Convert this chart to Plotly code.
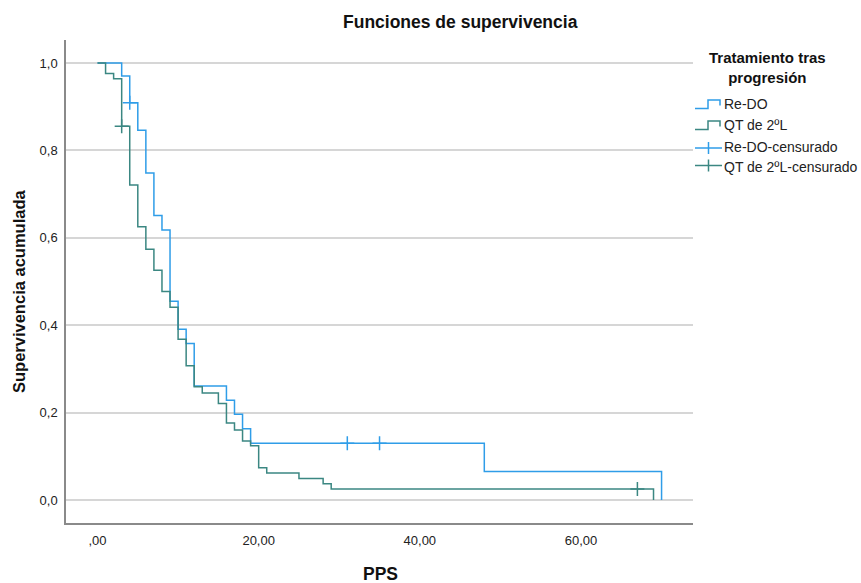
import plotly.graph_objects as go

# ---- data ----
redo_times = [0, 3, 4, 5, 6, 7, 8, 9, 10, 11, 12, 16, 17, 18, 19, 48, 70]
redo_surv = [1.0, 0.970, 0.909, 0.846, 0.748, 0.651, 0.618, 0.455, 0.391, 0.358,
             0.261, 0.228, 0.196, 0.163, 0.130, 0.065, 0.0]
redo_censored = [4, 31, 35]

qt_times = [0, 1, 2, 3, 4, 5, 6, 7, 8, 9, 10, 11, 12, 13, 15, 16, 17, 18, 19,
            20, 21, 25, 28, 29, 69]
qt_surv = [1.0, 0.976, 0.964, 0.855, 0.721, 0.625, 0.574, 0.526, 0.477, 0.441,
           0.368, 0.307, 0.259, 0.245, 0.221, 0.176, 0.160, 0.135, 0.124,
           0.074, 0.062, 0.049, 0.037, 0.025, 0.0]
qt_censored = [3, 67]

x_tick_vals = [0, 20, 40, 60]
x_tick_text = [",00", "20,00", "40,00", "60,00"]
y_tick_vals = [0.0, 0.2, 0.4, 0.6, 0.8, 1.0]
y_tick_text = ["0,0", "0,2", "0,4", "0,6", "0,8", "1,0"]

series_names = ["Re-DO", "QT de 2ºL", "Re-DO-censurado", "QT de 2ºL-censurado"]

BLUE = "#2f9de8"
GREEN = "#3b8782"
FONT = "Liberation Sans, Arial, sans-serif"


def surv_at(times, surv, t):
    s = surv[0]
    for ti, si in zip(times, surv):
        if ti <= t:
            s = si
    return s


fig = go.Figure()
fig.add_trace(go.Scatter(x=redo_times, y=redo_surv, mode="lines",
                         line=dict(color=BLUE, width=1.5, shape="hv"),
                         name=series_names[0], showlegend=False))
fig.add_trace(go.Scatter(x=qt_times, y=qt_surv, mode="lines",
                         line=dict(color=GREEN, width=1.5, shape="hv"),
                         name=series_names[1], showlegend=False))
fig.add_trace(go.Scatter(x=redo_censored,
                         y=[surv_at(redo_times, redo_surv, t) for t in redo_censored],
                         mode="markers",
                         marker=dict(symbol="cross-thin", size=10,
                                     line=dict(color=BLUE, width=1.5)),
                         name=series_names[2], showlegend=False))
fig.add_trace(go.Scatter(x=qt_censored,
                         y=[surv_at(qt_times, qt_surv, t) for t in qt_censored],
                         mode="markers",
                         marker=dict(symbol="cross-thin", size=10,
                                     line=dict(color=GREEN, width=1.5)),
                         name=series_names[3], showlegend=False))

# plot area in pixels
L, R, T, B = 66, 693, 40, 523
W, H = 861, 583


def px(xp):
    return (xp - L) / (R - L)


def py(yp):
    return (B - yp) / (B - T)


fig.update_layout(
    width=W, height=H,
    margin=dict(l=L, r=W - R, t=T, b=H - B),
    paper_bgcolor="white", plot_bgcolor="white",
    font=dict(family=FONT, color="#1a1a1a", size=13),
    xaxis=dict(range=[-3.91, 73.9], tickvals=x_tick_vals, ticktext=x_tick_text,
               showgrid=False, zeroline=False, showline=True,
               linecolor="#8a8a8a", linewidth=1.5, ticks="",
               ticklabelstandoff=5, tickfont=dict(size=13, color="#222")),
    yaxis=dict(range=[-0.0526, 1.0526], tickvals=y_tick_vals, ticktext=y_tick_text,
               showgrid=True, gridcolor="#d6d6d6", gridwidth=2, zeroline=False,
               showline=True, linecolor="#8a8a8a", linewidth=1.5, ticks="",
               ticklabelstandoff=4, tickfont=dict(size=13, color="#222")),
    showlegend=False,
)

ann = []
ann.append(dict(text="<b>Funciones de supervivencia</b>", x=px(460), y=py(22),
                xref="paper", yref="paper", showarrow=False,
                xanchor="center", yanchor="middle",
                font=dict(size=17.5, color="#111")))
ann.append(dict(text="<b>Supervivencia acumulada</b>", x=px(19), y=py(292),
                xref="paper", yref="paper", showarrow=False, textangle=-90,
                xanchor="center", yanchor="middle",
                font=dict(size=16.5, color="#111")))
ann.append(dict(text="<b>PPS</b>", x=px(380), y=py(574),
                xref="paper", yref="paper", showarrow=False,
                xanchor="center", yanchor="middle",
                font=dict(size=17.5, color="#111")))
ann.append(dict(text="<b>Tratamiento tras<br>progresión</b>", x=px(767), y=py(67),
                xref="paper", yref="paper", showarrow=False,
                xanchor="center", yanchor="middle", align="center",
                font=dict(size=15, color="#111")))

row_y = [104.5, 125.5, 146.5, 167]
for name, yy in zip(series_names, row_y):
    ann.append(dict(text=name, x=px(722), y=py(yy), xref="paper", yref="paper",
                    showarrow=False, xanchor="left", yanchor="middle",
                    font=dict(size=14, color="#222")))

shapes = []
# step icons
for col, yy in [(BLUE, row_y[0]), (GREEN, row_y[1])]:
    base = yy + 4
    top = yy - 4.5
    path = (f"M {px(695)},{py(base)} L {px(708)},{py(base)} L {px(708)},{py(top)} "
            f"L {px(720)},{py(top)} L {px(720)},{py(base - 3)}")
    shapes.append(dict(type="path", path=path, xref="paper", yref="paper",
                       line=dict(color=col, width=1.5)))
# cross icons
for col, yy in [(BLUE, row_y[2] + 1.5), (GREEN, row_y[3] - 1.5)]:
    shapes.append(dict(type="line", x0=px(695), x1=px(722), y0=py(yy), y1=py(yy),
                       xref="paper", yref="paper", line=dict(color=col, width=1.5)))
    shapes.append(dict(type="line", x0=px(708.5), x1=px(708.5), y0=py(yy - 6),
                       y1=py(yy + 6), xref="paper", yref="paper",
                       line=dict(color=col, width=1.5)))

fig.update_layout(annotations=ann, shapes=shapes)
fig.write_html("out.html", config={"displayModeBar": False},
               post_script="document.body.style.margin='0px';"
                           "document.body.style.overflow='hidden';")
